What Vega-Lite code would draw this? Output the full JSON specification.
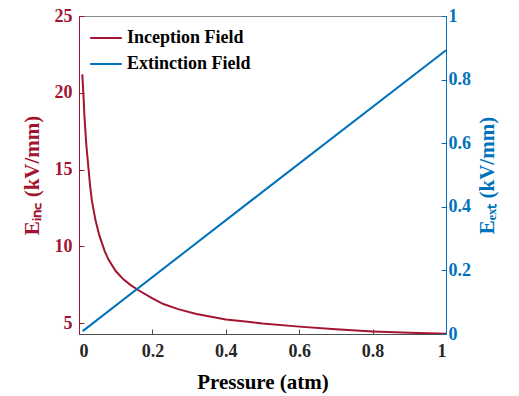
{
  "$schema": "https://vega.github.io/schema/vega-lite/v6.json",
  "width": 367,
  "height": 318,
  "autosize": "none",
  "padding": {"left": 79, "top": 16, "right": 73, "bottom": 62},
  "background": "white",
  "config": {
    "view": {"stroke": "#8c8c8c", "strokeWidth": 1},
    "font": "Liberation Serif",
    "axis": {"grid": false, "labelFont": "Liberation Serif", "titleFont": "Liberation Serif", "labelFontWeight": "bold", "titleFontWeight": "bold"}
  },
  "datasets": {
    "inc": [
      {"p": 0.009, "E": 21.2, "series": "Inception Field"},
      {"p": 0.0118, "E": 20.0, "series": "Inception Field"},
      {"p": 0.015, "E": 18.4, "series": "Inception Field"},
      {"p": 0.02, "E": 16.6, "series": "Inception Field"},
      {"p": 0.025, "E": 15.3, "series": "Inception Field"},
      {"p": 0.03, "E": 14.0, "series": "Inception Field"},
      {"p": 0.035, "E": 13.0, "series": "Inception Field"},
      {"p": 0.045, "E": 11.7, "series": "Inception Field"},
      {"p": 0.055, "E": 10.75, "series": "Inception Field"},
      {"p": 0.07, "E": 9.7, "series": "Inception Field"},
      {"p": 0.08, "E": 9.16, "series": "Inception Field"},
      {"p": 0.1, "E": 8.4, "series": "Inception Field"},
      {"p": 0.121, "E": 7.86, "series": "Inception Field"},
      {"p": 0.14, "E": 7.5, "series": "Inception Field"},
      {"p": 0.16, "E": 7.18, "series": "Inception Field"},
      {"p": 0.2, "E": 6.62, "series": "Inception Field"},
      {"p": 0.23, "E": 6.25, "series": "Inception Field"},
      {"p": 0.27, "E": 5.92, "series": "Inception Field"},
      {"p": 0.32, "E": 5.6, "series": "Inception Field"},
      {"p": 0.4, "E": 5.25, "series": "Inception Field"},
      {"p": 0.46, "E": 5.1, "series": "Inception Field"},
      {"p": 0.5, "E": 4.99, "series": "Inception Field"},
      {"p": 0.6, "E": 4.78, "series": "Inception Field"},
      {"p": 0.7, "E": 4.61, "series": "Inception Field"},
      {"p": 0.8, "E": 4.47, "series": "Inception Field"},
      {"p": 0.9, "E": 4.38, "series": "Inception Field"},
      {"p": 1.0, "E": 4.32, "series": "Inception Field"}
    ],
    "ext": [
      {"p": 0.01, "E": 0.009, "series": "Extinction Field"},
      {"p": 0.5, "E": 0.447, "series": "Extinction Field"},
      {"p": 1.0, "E": 0.892, "series": "Extinction Field"}
    ]
  },
  "encoding": {
    "x": {
      "field": "p", "type": "quantitative",
      "scale": {"domain": [0, 1], "nice": false},
      "axis": {
        "title": "Pressure (atm)", "titleFontSize": 21, "titleColor": "#000000", "titlePadding": 11,
        "values": [0, 0.2, 0.4, 0.6, 0.8, 1], "format": "~g",
        "labelFontSize": 18, "labelColor": "#262626", "labelPadding": 13,
        "domainColor": "#4d4d4d", "tickColor": "#4d4d4d", "tickSize": -5
      }
    },
    "color": {
      "field": "series", "type": "nominal",
      "scale": {"domain": ["Inception Field", "Extinction Field"], "range": ["#A2142F", "#0072BD"]},
      "legend": {
        "title": null, "orient": "none", "legendX": 10, "legendY": 5,
        "symbolType": "stroke", "symbolSize": 1000, "symbolStrokeWidth": 2,
        "labelFont": "Liberation Serif", "labelFontWeight": "bold", "labelFontSize": 18, "labelColor": "#000000",
        "labelOffset": 4, "rowPadding": -7
      }
    }
  },
  "layer": [
    {
      "data": {"name": "inc"},
      "mark": {"type": "line", "strokeWidth": 2, "clip": true},
      "encoding": {
        "y": {
          "field": "E", "type": "quantitative",
          "scale": {"domain": [4.3, 25], "nice": false, "zero": false},
          "axis": {
            "orient": "left", "title": "Eᵢₙ꜀ (kV/mm)", "titleFontSize": 21, "titleColor": "#A2142F", "titlePadding": 12,
            "values": [5, 10, 15, 20, 25],
            "labelFontSize": 18, "labelColor": "#A2142F", "labelPadding": 12,
            "domainColor": "#A2142F", "tickColor": "#A2142F", "tickSize": -5
          }
        }
      }
    },
    {
      "data": {"name": "ext"},
      "mark": {"type": "line", "strokeWidth": 2, "clip": true},
      "encoding": {
        "y": {
          "field": "E", "type": "quantitative",
          "scale": {"domain": [0, 1], "nice": false},
          "axis": {
            "orient": "right", "title": "Eₑₓₜ (kV/mm)", "titleFontSize": 21, "titleColor": "#0072BD", "titlePadding": 27, "titleAngle": 270,
            "values": [0, 0.2, 0.4, 0.6, 0.8, 1], "format": "~g",
            "labelFontSize": 18, "labelColor": "#0072BD", "labelPadding": 7,
            "domainColor": "#0072BD", "tickColor": "#0072BD", "tickSize": -5
          }
        }
      }
    }
  ],
  "resolve": {"scale": {"y": "independent"}}
}
